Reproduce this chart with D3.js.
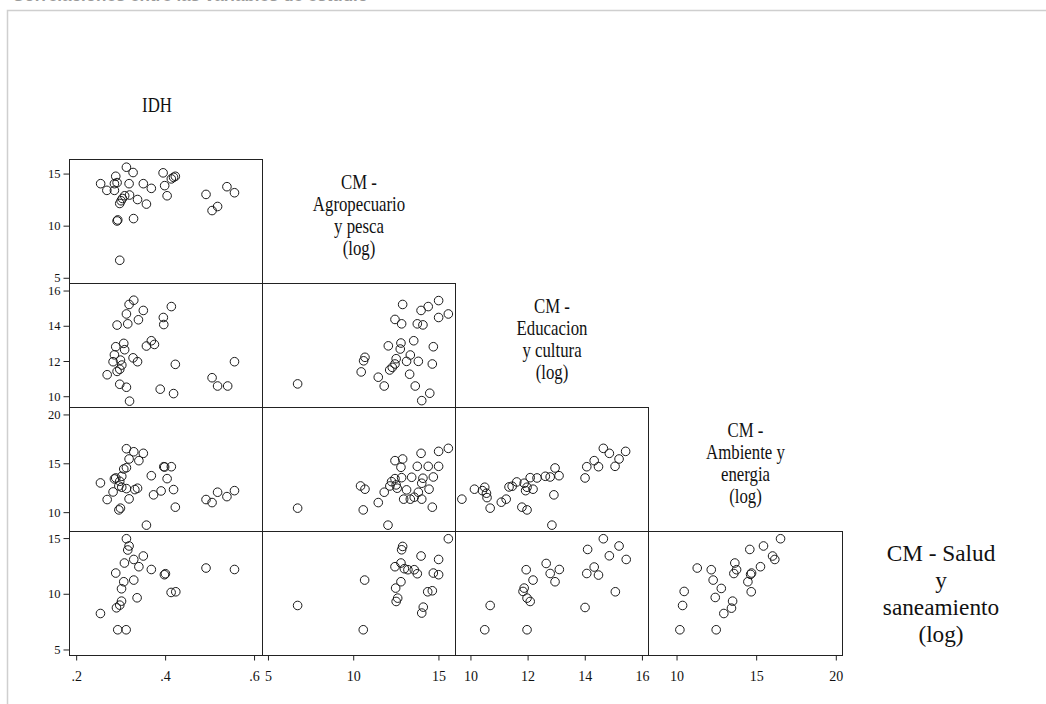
<!DOCTYPE html>
<html>
<head>
<meta charset="utf-8">
<script src="https://cdn.jsdelivr.net/npm/d3@7"></script>
<style>
  html, body { margin: 0; padding: 0; background: #fff; }
  svg { display: block; }
</style>
</head>
<body>
<svg id="chart" width="1046" height="704"></svg>
<script>
// Variable names shown on the diagonal of the scatterplot matrix
const varLabels = [
  ["IDH"],
  ["CM -", "Agropecuario", "y pesca", "(log)"],
  ["CM -", "Educacion", "y cultura", "(log)"],
  ["CM -", "Ambiente y", "energia", "(log)"],
  ["CM - Salud", "y", "saneamiento", "(log)"]
];

// Tick values per variable
const idhTicks = [0.2, 0.4, 0.6];
const agroTicks = [5, 10, 15];
const educTicks = [10, 12, 14, 16];
const ambTicks = [10, 15, 20];
const saludTicks = [5, 10, 15];

// Scatter panels: [x, y] pairs
const idhAgro = [
  [0.255, 14.03], [0.269, 13.39], [0.286, 14.03], [0.289, 14.74], [0.292, 14.13],
  [0.286, 13.39], [0.313, 15.61], [0.328, 15.10], [0.319, 14.03], [0.320, 12.94],
  [0.309, 12.87], [0.304, 12.61], [0.301, 12.39], [0.298, 12.13], [0.338, 12.51],
  [0.358, 12.07], [0.351, 14.03], [0.369, 13.58], [0.2935, 10.55], [0.292, 10.45],
  [0.329, 10.68], [0.298, 6.68], [0.3955, 15.07], [0.399, 13.84], [0.4045, 12.87],
  [0.414, 14.49], [0.419, 14.64], [0.423, 14.74], [0.492, 13.0], [0.5056, 11.45],
  [0.518, 11.84], [0.539, 13.74], [0.556, 13.16]
];

const idhEduc = [
  [0.3295, 15.45], [0.319, 15.21], [0.313, 14.67], [0.292, 14.04], [0.316, 14.11],
  [0.351, 14.87], [0.340, 14.34], [0.414, 15.09], [0.396, 14.47], [0.397, 14.07],
  [0.369, 13.15], [0.376, 12.94], [0.358, 12.85], [0.307, 13.0], [0.289, 12.81],
  [0.309, 12.64], [0.286, 12.35], [0.283, 11.96], [0.2996, 12.05], [0.3026, 11.77],
  [0.298, 11.53], [0.292, 11.41], [0.328, 12.18], [0.338, 11.96], [0.2697, 11.22],
  [0.298, 10.68], [0.313, 10.51], [0.320, 9.72], [0.389, 10.40], [0.419, 10.15],
  [0.423, 11.81], [0.5056, 11.05], [0.518, 10.58], [0.5407, 10.58], [0.556, 11.96]
];

const idhAmb = [
  [0.313, 16.49], [0.3295, 16.18], [0.351, 16.02], [0.319, 15.44], [0.341, 15.27],
  [0.313, 14.55], [0.307, 14.42], [0.289, 13.50], [0.286, 13.40], [0.3025, 13.67],
  [0.298, 13.16], [0.296, 12.68], [0.3025, 12.55], [0.313, 12.41], [0.332, 12.31],
  [0.338, 12.45], [0.2546, 12.99], [0.283, 12.07], [0.2697, 11.29], [0.319, 11.36],
  [0.369, 13.73], [0.374, 11.77], [0.391, 12.17], [0.397, 14.65], [0.399, 14.62],
  [0.414, 14.65], [0.4045, 13.43], [0.419, 12.31], [0.423, 10.51], [0.296, 10.23],
  [0.2996, 10.41], [0.358, 8.67], [0.492, 11.29], [0.5056, 10.98], [0.518, 12.04],
  [0.539, 11.59], [0.556, 12.20]
];

const idhSalud = [
  [0.313, 14.94], [0.319, 14.29], [0.316, 13.93], [0.351, 13.39], [0.3295, 13.08],
  [0.3085, 12.76], [0.341, 12.43], [0.369, 12.18], [0.289, 11.86], [0.3984, 11.71],
  [0.4007, 11.80], [0.492, 12.31], [0.556, 12.18], [0.307, 11.08], [0.3295, 11.23],
  [0.302, 10.45], [0.337, 9.64], [0.4135, 10.12], [0.424, 10.18], [0.302, 9.34],
  [0.298, 8.98], [0.2906, 8.74], [0.2546, 8.23], [0.2935, 6.77], [0.3124, 6.77]
];

const agroEduc = [
  [6.74, 10.70], [12.90, 15.21], [13.98, 14.87], [14.40, 15.09], [15.01, 15.43],
  [15.58, 14.67], [15.01, 14.47], [12.45, 14.36], [12.84, 14.11], [13.76, 14.11],
  [14.09, 14.05], [13.55, 13.15], [12.80, 13.02], [12.06, 12.86], [12.76, 12.68],
  [14.70, 12.81], [13.35, 12.34], [10.69, 12.21], [10.61, 12.01], [12.52, 12.13],
  [13.13, 11.98], [13.82, 11.98], [14.64, 11.83], [12.45, 11.83], [12.29, 11.64],
  [12.14, 11.49], [10.47, 11.38], [13.31, 11.25], [11.47, 11.08], [11.82, 10.58],
  [13.64, 10.58], [14.49, 10.17], [14.02, 9.75]
];

const agroAmb = [
  [6.74, 10.41], [15.58, 16.53], [15.01, 16.22], [13.98, 16.02], [12.45, 15.27],
  [12.90, 15.44], [12.80, 14.59], [13.76, 14.69], [14.40, 14.69], [15.01, 14.69],
  [14.70, 13.60], [14.09, 13.47], [13.43, 13.57], [12.84, 13.53], [12.45, 13.43],
  [12.25, 13.12], [14.02, 12.96], [12.52, 12.79], [12.15, 12.68], [12.58, 12.45],
  [13.13, 12.28], [13.82, 12.04], [14.45, 12.35], [10.43, 12.68], [10.69, 12.35],
  [11.82, 12.04], [12.96, 11.33], [13.35, 11.33], [13.58, 11.53], [14.02, 11.33],
  [11.47, 10.98], [10.59, 10.23], [14.64, 10.51], [12.04, 8.67]
];

const agroSalud = [
  [6.74, 8.95], [10.59, 6.77], [10.67, 11.23], [15.58, 14.94], [12.90, 14.25],
  [12.84, 13.95], [13.98, 13.39], [15.01, 13.08], [12.80, 12.76], [12.45, 12.43],
  [13.00, 12.25], [13.21, 12.16], [13.58, 12.16], [13.76, 11.80], [14.70, 11.86],
  [15.01, 11.71], [12.80, 11.08], [12.49, 10.51], [14.37, 10.18], [14.64, 10.27],
  [12.61, 9.61], [12.52, 9.31], [14.11, 8.80], [14.02, 8.27]
];

const educAmb = [
  [9.70, 11.33], [10.14, 12.35], [10.50, 12.55], [10.42, 12.20], [10.56, 11.94],
  [10.58, 11.49], [10.69, 10.41], [11.08, 11.02], [11.25, 11.33], [11.35, 12.58],
  [11.46, 12.65], [11.62, 13.09], [11.88, 12.96], [11.98, 12.55], [11.93, 12.20],
  [12.19, 12.35], [12.09, 13.53], [12.33, 13.50], [12.62, 13.67], [12.79, 13.60],
  [12.96, 14.52], [13.10, 13.73], [11.80, 10.51], [11.98, 10.23], [12.92, 11.77],
  [12.85, 8.67], [14.01, 13.50], [14.07, 14.65], [14.33, 15.27], [14.48, 14.65],
  [14.65, 16.53], [14.86, 16.02], [15.20, 15.44], [15.06, 14.69], [15.43, 16.22]
];

const educSalud = [
  [10.50, 6.77], [10.69, 8.95], [11.98, 6.77], [11.95, 12.16], [12.19, 11.23],
  [11.88, 10.51], [11.84, 10.21], [11.98, 9.61], [12.09, 9.31], [12.65, 12.72],
  [12.79, 11.82], [13.11, 12.18], [12.96, 11.08], [14.01, 8.77], [14.07, 11.82],
  [14.10, 13.98], [14.33, 12.40], [14.48, 11.68], [14.65, 14.94], [14.86, 13.41],
  [15.20, 14.29], [15.45, 13.08], [15.07, 10.18]
];

const ambSalud = [
  [10.21, 6.77], [10.38, 8.95], [10.48, 10.21], [11.30, 12.31], [12.18, 12.16],
  [12.30, 11.23], [12.43, 9.67], [12.49, 6.77], [12.81, 10.48], [12.97, 8.23],
  [13.45, 8.71], [13.52, 9.34], [13.60, 11.82], [13.66, 12.76], [13.77, 12.16],
  [14.60, 13.98], [14.48, 11.08], [14.65, 11.74], [14.69, 10.18], [14.71, 11.86],
  [15.27, 12.43], [15.46, 14.29], [16.03, 13.39], [16.17, 13.08], [16.53, 14.94]
];

// ---- layout ----
const svg = d3.select("#chart");
const W = 1046, H = 704;
svg.append("rect").attr("width", W).attr("height", H).attr("fill", "#fff");

// page heading (runs off the top edge) and surrounding frame
svg.append("text")
  .attr("x", 12).attr("y", 0.8)
  .attr("font-family", "Liberation Sans, Arial, sans-serif")
  .attr("font-size", 17).attr("font-weight", "bold")
  .attr("fill", "#9a9a9a")
  .text("Correlaciones entre las variables de estudio");
svg.append("rect")
  .attr("x", 7.5).attr("y", 10.5).attr("width", 1100).attr("height", 800)
  .attr("fill", "none").attr("stroke", "#cfcfcf").attr("stroke-width", 1.5);

// cell edges
const colEdges = [69.5, 262.5, 455.5, 648.5, 842.5, 1035.5];
const rowEdges = [35.5, 159.5, 283.5, 407.5, 531.5, 655.5];

// scales for each variable as an x (column) and y (row) axis
const xScales = [
  d3.scaleLinear().domain([0.185, 0.619]).range([colEdges[0], colEdges[1]]),
  d3.scaleLinear().domain([4.68, 16.0]).range([colEdges[1], colEdges[2]]),
  d3.scaleLinear().domain([9.477, 16.23]).range([colEdges[2], colEdges[3]]),
  d3.scaleLinear().domain([8.24, 20.42]).range([colEdges[3], colEdges[4]])
];
const yScales = [
  null,
  d3.scaleLinear().domain([4.45, 16.35]).range([rowEdges[2], rowEdges[1]]),
  d3.scaleLinear().domain([9.36, 16.4]).range([rowEdges[3], rowEdges[2]]),
  d3.scaleLinear().domain([8.02, 20.71]).range([rowEdges[4], rowEdges[3]]),
  d3.scaleLinear().domain([4.46, 15.59]).range([rowEdges[5], rowEdges[4]])
];
const xTicks = [idhTicks, agroTicks, educTicks, ambTicks];
const yTicks = [null, agroTicks, educTicks, ambTicks, saludTicks];
const xFormat = [d => d3.format(".1f")(d).replace(/^0/, ""), d3.format("d"), d3.format("d"), d3.format("d")];

// panels indexed by [row][col]
const panels = [
  { row: 1, col: 0, data: idhAgro },
  { row: 2, col: 0, data: idhEduc },
  { row: 2, col: 1, data: agroEduc },
  { row: 3, col: 0, data: idhAmb },
  { row: 3, col: 1, data: agroAmb },
  { row: 3, col: 2, data: educAmb },
  { row: 4, col: 0, data: idhSalud },
  { row: 4, col: 1, data: agroSalud },
  { row: 4, col: 2, data: educSalud },
  { row: 4, col: 3, data: ambSalud }
];

const serif = "Liberation Serif, Times New Roman, serif";

// points
panels.forEach(p => {
  const xs = xScales[p.col], ys = yScales[p.row];
  svg.append("g").selectAll("circle").data(p.data).join("circle")
    .attr("cx", d => xs(d[0])).attr("cy", d => ys(d[1]))
    .attr("r", 4.3)
    .attr("fill", "none").attr("stroke", "#1a1a1a").attr("stroke-width", 1);
});

// cell borders
panels.forEach(p => {
  svg.append("rect")
    .attr("x", colEdges[p.col]).attr("y", rowEdges[p.row])
    .attr("width", colEdges[p.col + 1] - colEdges[p.col])
    .attr("height", rowEdges[p.row + 1] - rowEdges[p.row])
    .attr("fill", "none").attr("stroke", "#222").attr("stroke-width", 1);
});

// left axes (one per row)
for (let r = 1; r <= 4; r++) {
  const ax = d3.axisLeft(yScales[r]).tickValues(yTicks[r]).tickSize(6).tickPadding(3).tickFormat(d3.format("d"));
  const g = svg.append("g").attr("transform", `translate(${colEdges[0]},0)`).call(ax);
  g.select(".domain").remove();
  g.selectAll("line").attr("stroke", "#222");
  g.selectAll("text").attr("font-family", serif).attr("font-size", 12.5).attr("fill", "#111");
}

// bottom axes (one per column)
for (let c = 0; c < 4; c++) {
  const ax = d3.axisBottom(xScales[c]).tickValues(xTicks[c]).tickSize(5).tickPadding(11).tickFormat(xFormat[c]);
  const g = svg.append("g").attr("transform", `translate(0,${rowEdges[5]})`).call(ax);
  g.select(".domain").remove();
  g.selectAll("line").attr("stroke", "#222");
  g.selectAll("text").attr("font-family", serif).attr("font-size", 14).attr("fill", "#111");
}

// diagonal variable names (narrow serif face; the last cell's name is set larger)
varLabels.forEach((lines, i) => {
  let cx = (colEdges[i] + colEdges[i + 1]) / 2;
  let cy = (rowEdges[i] + rowEdges[i + 1]) / 2;
  let size = 20, lh = 22, sx = 0.84;
  if (i === 0) { cx -= 9; cy += 9; }
  else if (i === 4) { cx += 2; cy += 2; size = 24; lh = 27; sx = 0.97; }
  else { cy -= 5; }
  const t = svg.append("text")
    .attr("transform", `translate(${cx},0) scale(${sx},1)`)
    .attr("font-family", serif).attr("font-size", size).attr("fill", "#111")
    .attr("text-anchor", "middle");
  lines.forEach((s, k) => {
    t.append("tspan").attr("x", 0)
      .attr("y", cy + (k - (lines.length - 1) / 2) * lh + 6)
      .text(s);
  });
});
</script>
</body>
</html>
